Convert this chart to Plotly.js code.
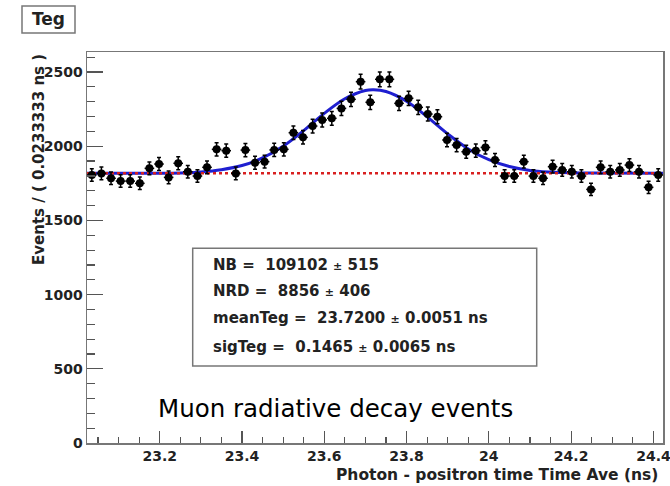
<!DOCTYPE html>
<html><head><meta charset="utf-8">
<script src="https://cdn.plot.ly/plotly-3.0.1.min.js"></script>
<style>html,body{margin:0;padding:0;background:#fff}</style>
</head><body>
<div id="chart" style="width:670px;height:486px"></div>
<script>
// Bin centres (ns), bin width 0.0233333 ns
const binCenters = [23.0350,23.0583,23.0817,23.1050,23.1283,23.1517,23.1750,23.1983,23.2217,23.2450,
  23.2683,23.2917,23.3150,23.3383,23.3617,23.3850,23.4083,23.4317,23.4550,23.4783,
  23.5017,23.5250,23.5483,23.5717,23.5950,23.6183,23.6417,23.6650,23.6883,23.7117,
  23.7350,23.7583,23.7817,23.8050,23.8283,23.8517,23.8750,23.8983,23.9217,23.9450,
  23.9683,23.9917,24.0150,24.0383,24.0617,24.0850,24.1083,24.1317,24.1550,24.1783,
  24.2017,24.2250,24.2483,24.2717,24.2950,24.3183,24.3417,24.3650,24.3883,24.4117];
// Events per bin
const events = [1806,1817,1784,1765,1765,1750,1851,1880,1790,1885,
  1828,1799,1858,1979,1970,1817,1974,1889,1896,1975,
  1979,2091,2060,2136,2177,2188,2255,2316,2435,2296,
  2451,2451,2289,2323,2262,2217,2199,2042,2008,1963,
  1970,1992,1907,1799,1799,1896,1799,1784,1862,1840,
  1828,1799,1709,1858,1828,1840,1873,1828,1723,1806];
const halfBin = 0.0116667;
// Fit curve (signal + background)
const fitX = [23.0233,23.25,23.30,23.35,23.40,23.45,23.50,23.55,23.60,23.65,23.70,23.72,23.75,23.80,23.85,23.90,23.95,24.00,24.05,24.10,24.15,24.20,24.25,24.4233];
const fitY = [1818,1820,1827,1842,1870,1921,2000,2105,2221,2320,2376,2381,2369,2303,2198,2083,1982,1909,1863,1837,1826,1821,1819,1818];
// Background level
const bkgX = [23.0233,24.4233];
const bkgY = [1818,1818];
const xRange = [23.0233,24.4233];
const yRange = [0,2635];
const xTickVals = [23.2,23.4,23.6,23.8,24,24.2,24.4];
const xTickText = ['23.2','23.4','23.6','23.8','24','24.2','24.4'];
const yTickVals = [0,500,1000,1500,2000,2500];
const yTickText = ['0','500','1000','1500','2000','2500'];
const statLines = [
  'NB =  109102 <span style="font-size:11px">±</span> 515',
  'NRD =  8856 <span style="font-size:11px">±</span> 406',
  'meanTeg =  23.7200 <span style="font-size:11px">±</span> 0.0051 ns',
  'sigTeg =  0.1465 <span style="font-size:11px">±</span> 0.0065 ns'];
const boxTitle = 'Teg';
const yTitle = 'Events / ( 0.0233333 ns )';
const xTitle = 'Photon - positron time Time Ave (ns)';
const caption = 'Muon radiative decay events';

const FONT = 'DejaVu Sans, Verdana, sans-serif';
const W = 670, H = 486, L = 87, R = 7, T = 52, B = 43;
const pw = W - L - R, ph = H - T - B;
const px = v => (v - L) / pw;
const py = v => (H - B - v) / ph;

const traces = [
  {x: fitX, y: fitY, type: 'scatter', mode: 'lines', line: {color: '#1f1fd0', width: 3, shape: 'spline', smoothing: 1}, hoverinfo: 'skip'},
  {x: bkgX, y: bkgY, type: 'scatter', mode: 'lines', line: {color: '#d82020', width: 2.5, dash: 'dot'}, hoverinfo: 'skip'},
  {x: binCenters, y: events, type: 'scatter', mode: 'markers',
   marker: {color: '#000', size: 8, symbol: 'circle'},
   error_y: {type: 'sqrt', color: '#000', thickness: 1.5, width: 2},
   error_x: {type: 'constant', value: halfBin, color: '#000', thickness: 1.5, width: 0}}
];

const anns = [];
statLines.forEach((t, i) => {
  const ys = [265, 290.7, 318.3, 346.7];
  anns.push({text: t, xref: 'paper', yref: 'paper', x: px(211), y: py(ys[i]), xanchor: 'left', yanchor: 'middle', showarrow: false,
    font: {family: FONT, size: 15, color: '#222', weight: 'bold'}});
});
anns.push({text: boxTitle, xref: 'paper', yref: 'paper', x: px(48.5), y: py(19.5), xanchor: 'center', yanchor: 'middle', showarrow: false,
  font: {family: FONT, size: 17, color: '#222', weight: 'bold'}});
anns.push({text: yTitle, xref: 'paper', yref: 'paper', x: px(39), y: py(160), xanchor: 'center', yanchor: 'middle', textangle: -90, showarrow: false,
  font: {family: FONT, size: 15, color: '#222', weight: 'bold'}});
anns.push({text: xTitle, xref: 'paper', yref: 'paper', x: px(660), y: py(475), xanchor: 'right', yanchor: 'middle', showarrow: false,
  font: {family: FONT, size: 15.5, color: '#222', weight: 'bold'}});
anns.push({text: caption, xref: 'paper', yref: 'paper', x: px(156), y: py(408), xanchor: 'left', yanchor: 'middle', showarrow: false,
  font: {family: FONT, size: 24.5, color: '#000'}});

const shapes = [
  {type: 'rect', xref: 'paper', yref: 'paper', x0: px(22), x1: px(75), y0: py(33), y1: py(6), line: {color: '#777', width: 1.5}, fillcolor: 'rgba(0,0,0,0)'},
  {type: 'rect', xref: 'paper', yref: 'paper', x0: px(192.7), x1: px(536.7), y0: py(366), y1: py(248.3), line: {color: '#777', width: 1.5}, fillcolor: 'rgba(0,0,0,0)'}
];

const layout = {
  width: W, height: H,
  margin: {l: L, r: R, t: T, b: B, pad: 0},
  paper_bgcolor: '#fff', plot_bgcolor: '#fff',
  showlegend: false,
  font: {family: FONT, color: '#222'},
  xaxis: {range: xRange, showgrid: false, zeroline: false, showline: true, mirror: true, linecolor: '#777', linewidth: 1.5,
    tickmode: 'array', tickvals: xTickVals, ticktext: xTickText, ticks: 'inside', ticklen: 12, tickwidth: 1.2, tickcolor: '#555',
    ticklabeloverflow: 'allow',
    tickfont: {family: FONT, size: 14, color: '#222', weight: 'bold'},
    minor: {tickmode: 'linear', tick0: 23.2, dtick: 0.05, ticks: 'inside', ticklen: 6, tickwidth: 1.2, tickcolor: '#555', showgrid: false}},
  yaxis: {range: yRange, showgrid: false, zeroline: false, showline: true, mirror: true, linecolor: '#777', linewidth: 1.5,
    tickmode: 'array', tickvals: yTickVals, ticktext: yTickText, ticks: 'inside', ticklen: 16, tickwidth: 1.2, tickcolor: '#555',
    tickfont: {family: FONT, size: 14, color: '#222', weight: 'bold'},
    minor: {tickmode: 'linear', tick0: 0, dtick: 100, ticks: 'inside', ticklen: 8, tickwidth: 1.2, tickcolor: '#555', showgrid: false}},
  annotations: anns,
  shapes: shapes
};
Plotly.newPlot('chart', traces, layout, {displayModeBar: false, staticPlot: true});
</script>
</body></html>
